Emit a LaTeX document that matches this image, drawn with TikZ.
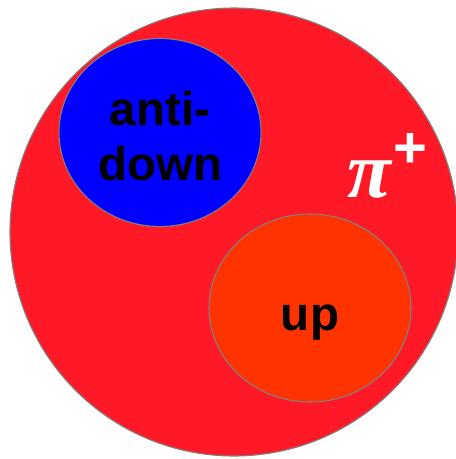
\documentclass[tikz,border=0pt]{standalone}
\usepackage{fontspec}
\setmainfont{Liberation Sans}
\newfontfamily\pifont{Liberation Serif}
\usepackage{tikz}
\usetikzlibrary{shapes.geometric}
\definecolor{pionred}{RGB}{255,24,38}
\definecolor{upred}{RGB}{255,51,0}
\definecolor{downblue}{RGB}{0,0,255}
\definecolor{rim}{RGB}{128,128,128}

\begin{document}
\begin{tikzpicture}[x=1pt,y=-1pt,
		quark/.style={ellipse, draw=rim, line width=1.1pt, inner sep=0pt, minimum width=202pt, minimum height=188pt},
		word/.style={font=\fontsize{47.5}{55}\selectfont\bfseries, anchor=base, inner sep=0pt}]
		\useasboundingbox (0,0) rectangle (456,459);

		% --- the pion ---
		\begin{scope}
			\clip (0,0) rectangle (456,459);
			\node[circle, draw=rim, line width=1.1pt, fill=pionred, inner sep=0pt, minimum size=448pt] (pion) at (234,232) {};
		\end{scope}
		\node[anchor=base west, inner sep=0pt, text=white] (pilabel) at (347,197)
			{\fontsize{80}{80}\selectfont\pifont\bfseries\itshape π\kern3pt\raisebox{30pt}{\fontsize{58}{58}\selectfont\normalfont\bfseries +}};

		% --- the two quarks ---
		\node[quark, fill=downblue] (antidown) at (160,132.5) {};
		\node[word] (anti) at (160,125) {anti-};
		\node[word] (down) at (160,180) {down};

		\node[quark, fill=upred] (up) at (310,308) {};
		\node[word] (uplabel) at (310,330) {up};
	\end{tikzpicture}
\end{document}
